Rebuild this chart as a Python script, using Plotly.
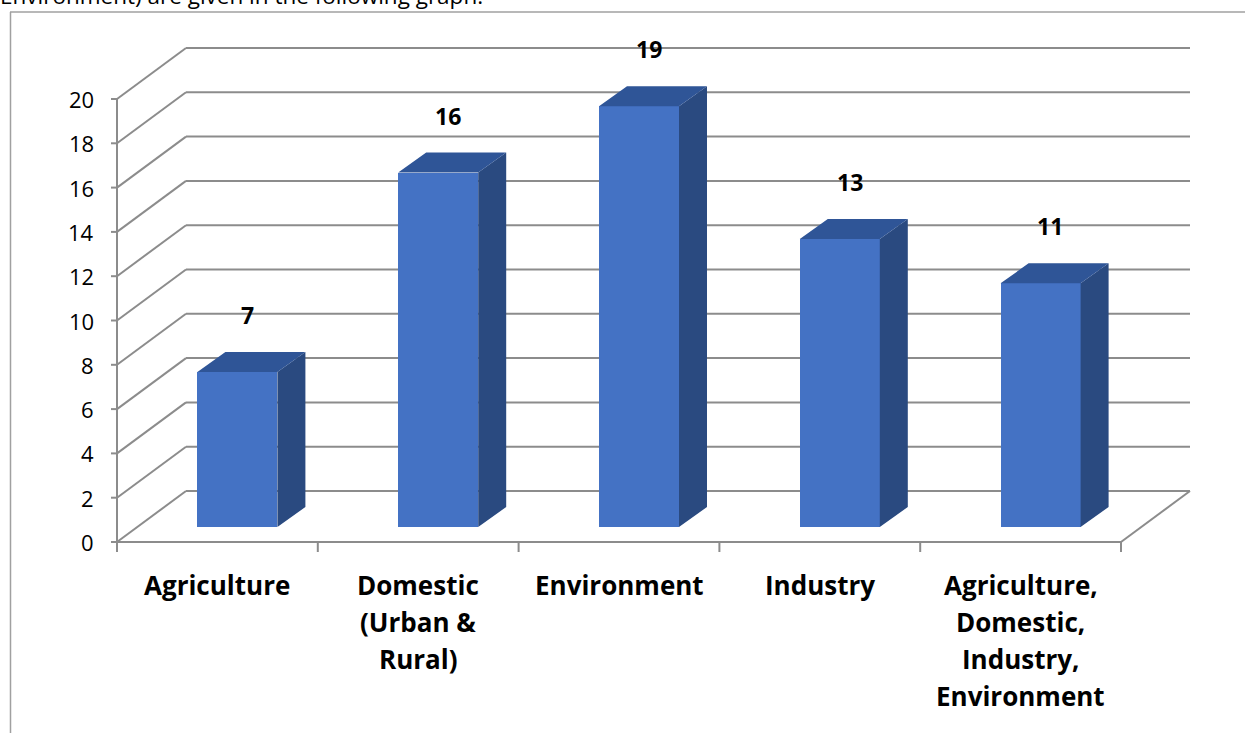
import plotly.graph_objects as go

# ---- data -------------------------------------------------------------
categories = [
    "Agriculture",
    "Domestic<br>(Urban &<br>Rural)",
    "Environment",
    "Industry",
    "Agriculture,<br>Domestic,<br>Industry,<br>Environment",
]
values = [7, 16, 19, 13, 11]
y_ticks = [0, 2, 4, 6, 8, 10, 12, 14, 16, 18, 20]
y_tick_labels = [str(t) for t in y_ticks]
caption = "Environment) are given in the following graph."

# ---- page / scale set-up ---------------------------------------------
W, H = 1245, 733
X0_PX, Y0_PX = 117, 542          # front-left floor corner on the page
CAT_PX = 200.8                   # width of one category slot
UNIT_PX = 22.15                  # pixels per value unit

x_lo = -0.5 - X0_PX / CAT_PX
x_hi = x_lo + W / CAT_PX
y_lo = -(H - Y0_PX) / UNIT_PX
y_hi = Y0_PX / UNIT_PX

# oblique depth of the walls / floor and of each bar (in axis units)
WALL_DX, WALL_DY = 69 / CAT_PX, 51 / UNIT_PX
BAR_OFF_X, BAR_OFF_Y = 20 / CAT_PX, 15 / UNIT_PX
BAR_DX, BAR_DY = 28 / CAT_PX, 20 / UNIT_PX
BAR_W = 80 / CAT_PX

FRONT = "#4472C4"
SIDE = "#2A4A80"
TOP = "#2F5597"
GRID = "#8C8C8C"
FONT = "Open Sans"

n = len(categories)
left, right = -0.5, n - 0.5

shapes = []

def seg(x0, y0, x1, y1, color=GRID, width=2, ref="data"):
    d = dict(type="line", x0=x0, y0=y0, x1=x1, y1=y1,
             line=dict(color=color, width=width), layer="below")
    if ref == "data":
        d.update(xref="x", yref="y")
    else:
        d.update(xref="paper", yref="paper")
    shapes.append(d)

# side wall diagonals + back-wall gridlines
for t in y_ticks:
    seg(left, t, left + WALL_DX, t + WALL_DY)
    seg(left + WALL_DX, t + WALL_DY, right + WALL_DX, t + WALL_DY)
    seg(left - 6 / CAT_PX, t, left, t)          # tick mark

# value axis line and floor edges
seg(left, 0, left, y_ticks[-1])
seg(left, 0, right, 0)
seg(right, 0, right + WALL_DX, WALL_DY)
for k in range(n + 1):
    seg(left + k, 0, left + k, -10 / UNIT_PX)

# outer frame of the chart box
seg(10 / W, 1 - 12 / H, 1, 1 - 12 / H, color="#A0A0A0", width=1.5, ref="paper")
seg(10.5 / W, 1 - 12 / H, 10.5 / W, 0, color="#A0A0A0", width=1.5, ref="paper")

fig = go.Figure()

# bar front faces
xs = [i + BAR_OFF_X for i in range(n)]
fig.add_trace(go.Bar(
    x=xs, y=values, base=BAR_OFF_Y, width=BAR_W,
    marker=dict(color=FRONT, line=dict(width=0)),
    hoverinfo="skip", showlegend=False,
))

# bar side and top faces
sx, sy, tx, ty = [], [], [], []
for xc, v in zip(xs, values):
    xl, xr = xc - BAR_W / 2, xc + BAR_W / 2
    b, t = BAR_OFF_Y, BAR_OFF_Y + v
    sx += [xr, xr + BAR_DX, xr + BAR_DX, xr, xr, None]
    sy += [b, b + BAR_DY, t + BAR_DY, t, b, None]
    tx += [xl, xl + BAR_DX, xr + BAR_DX, xr, xl, None]
    ty += [t, t + BAR_DY, t + BAR_DY, t, t, None]
fig.add_trace(go.Scatter(x=sx, y=sy, fill="toself", fillcolor=SIDE, mode="none",
                         hoverinfo="skip", showlegend=False))
fig.add_trace(go.Scatter(x=tx, y=ty, fill="toself", fillcolor=TOP, mode="none",
                         hoverinfo="skip", showlegend=False))

annotations = []
# value labels
for xc, v in zip(xs, values):
    annotations.append(dict(
        x=xc + BAR_DX * 0.35, y=v + BAR_OFF_Y + BAR_DY, xref="x", yref="y",
        text=str(v), showarrow=False, yanchor="bottom", yshift=19,
        font=dict(family=FONT, size=23, color="black", weight="bold"),
    ))
# value-axis labels
for t, lab in zip(y_ticks, y_tick_labels):
    annotations.append(dict(
        x=left, y=t, xref="x", yref="y", text=lab, showarrow=False,
        xanchor="right", yanchor="middle", xshift=-21,
        font=dict(family=FONT, size=22, color="black"),
    ))
# category labels, one line at a time
for i, cat in enumerate(categories):
    for j, line in enumerate(cat.split("<br>")):
        annotations.append(dict(
            x=i, y=0, xref="x", yref="y", text=line, showarrow=False,
            xanchor="center", yanchor="middle", yshift=-43 - 37 * j,
            font=dict(family=FONT, size=26, color="black", weight="bold"),
        ))
# running text above the chart box
annotations.append(dict(
    x=-2 / W, y=1 + 5 / H, xref="paper", yref="paper", text=caption,
    showarrow=False, xanchor="left", yanchor="middle",
    font=dict(family=FONT, size=22.5, color="black"),
))

fig.update_layout(
    width=W, height=H,
    margin=dict(l=0, r=0, t=0, b=0),
    paper_bgcolor="white", plot_bgcolor="white",
    xaxis=dict(range=[x_lo, x_hi], visible=False, fixedrange=True),
    yaxis=dict(range=[y_lo, y_hi], visible=False, fixedrange=True),
    shapes=shapes, annotations=annotations,
    showlegend=False, bargap=0,
)

fig.write_html("out.html")
